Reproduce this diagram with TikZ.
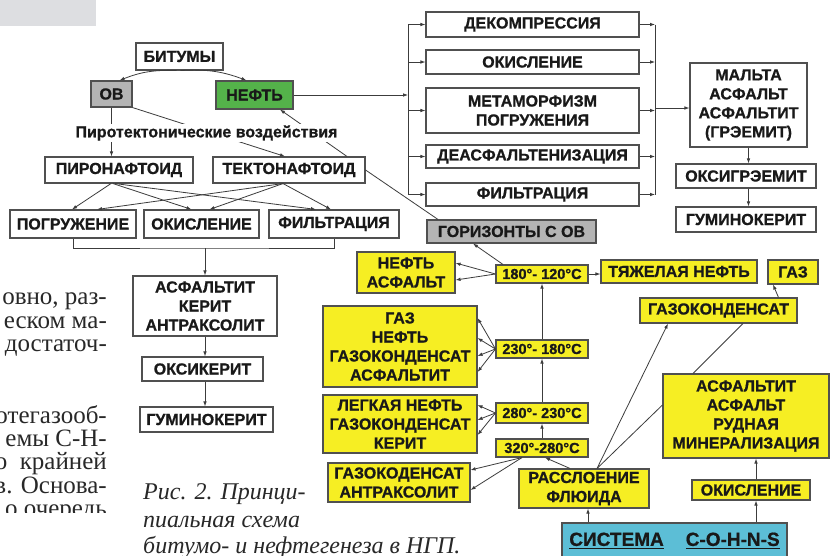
\documentclass[tikz,border=0pt]{standalone}
\usepackage{fontspec}
\setmainfont{Liberation Serif}
\newfontfamily\schemefont[BoldFeatures={FakeBold=0.8}]{Liberation Sans}
\usetikzlibrary{arrows.meta}

\definecolor{framecolor}{RGB}{80,80,80}
\definecolor{wirecolor}{RGB}{60,60,60}
\definecolor{ink}{RGB}{25,25,25}
\definecolor{pageink}{RGB}{40,40,40}
\definecolor{yellowfill}{RGB}{246,238,35}
\definecolor{greenfill}{RGB}{84,178,74}
\definecolor{grayfill}{RGB}{180,180,180}
\definecolor{cyanfill}{RGB}{92,190,214}
\definecolor{cornerfill}{RGB}{221,222,225}

% thick underline for the system label
\newcommand{\sysul}[1]{\setbox0\hbox{#1}\rlap{\rule[-3.5pt]{\wd0}{1.6pt}}\box0}

\begin{document}
\begin{tikzpicture}[x=1pt, y=-1pt,
    >={Latex[length=5pt,width=3.6pt]},
    wire/.style={draw=wirecolor, line width=0.8pt},
    box/.style={draw=framecolor, line width=1.1pt, fill=white, inner sep=0pt, align=center, text=ink,
      font=\schemefont\bfseries\fontsize{16}{19}\selectfont},
    ybox/.style={box, fill=yellowfill},
    tempbox/.style={ybox, font=\schemefont\bfseries\fontsize{14.5}{16}\selectfont},
    bodyline/.style={anchor=base east, inner sep=0pt, text=pageink, font=\fontsize{25}{24}\selectfont},
    capline/.style={anchor=base west, inner sep=0pt, text=pageink, font=\itshape\fontsize{24}{30}\selectfont}]

	\useasboundingbox (0,0) rectangle (833,555);
	\clip (0,0) rectangle (833,555);
	\fill[white] (0,0) rectangle (833,555);
	\fill[cornerfill] (0,0) rectangle (96,26);

	% --- Page text round the figure ---
	\begin{scope}
		\clip (0,0) rectangle (120,512);
		\node[bodyline] (txt1) at (107,304) {овно, раз-};
		\node[bodyline] (txt2) at (107,328) {еском ма-};
		\node[bodyline] (txt3) at (107,351) {достаточ-};
		\node[bodyline] (txt4) at (107,423) {отегазооб-};
		\node[bodyline] (txt5) at (107,446) {емы С-Н-};
		\node[bodyline] (txt6) at (107,469) {о\ \ крайней};
		\node[bodyline] (txt7) at (107,493) {в. Основа-};
		\node[bodyline] (txt8) at (107,516.5) {о очередь};
	\end{scope}
	\node[capline] (cap1) at (143,499) {Рис. 2. Принци-};
	\node[capline] (cap2) at (143,527) {пиальная схема};
	\node[capline] (cap3) at (143,553) {битумо- и нефтегенеза в НГП.};

	% --- Bitumen branch ---
	\node[box, minimum width=87pt, minimum height=27pt] (bitumy) at (179.5,56.5) {БИТУМЫ};
	\node[box, fill=grayfill, minimum width=41pt, minimum height=26pt] (ov) at (111.5,94) {ОВ};
	\node[box, fill=greenfill, minimum width=77pt, minimum height=28pt] (neft) at (254.5,95) {НЕФТЬ};
	\node[box, minimum width=148pt, minimum height=26pt] (piro) at (119,170) {ПИРОНАФТОИД};
	\node[box, minimum width=152pt, minimum height=26pt] (tekto) at (289,170) {ТЕКТОНАФТОИД};
	\node[box, minimum width=126pt, minimum height=28pt] (pogr) at (73,224) {ПОГРУЖЕНИЕ};
	\node[box, minimum width=115pt, minimum height=28pt] (okis) at (201.5,224) {ОКИСЛЕНИЕ};
	\node[box, minimum width=130pt, minimum height=28pt] (filt) at (334,224) {ФИЛЬТРАЦИЯ};
	\node[box, minimum width=144pt, minimum height=60pt] (asf) at (205,306) {АСФАЛЬТИТ\\КЕРИТ\\АНТРАКСОЛИТ};
	\node[box, minimum width=121pt, minimum height=24pt] (oksik) at (202.5,369) {ОКСИКЕРИТ};
	\node[box, minimum width=133pt, minimum height=25pt] (gumin) at (206.5,419.5) {ГУМИНОКЕРИТ};

	\draw[wire,->] ([xshift=-3pt]bitumy.south) to[bend right=12] ([xshift=8pt]ov.north);
	\draw[wire,->] ([xshift=1pt]bitumy.south) to[bend left=12] ([xshift=-8pt]neft.north);
	\draw[wire,->] (ov.south) -- (ov.south |- piro.north);
	\draw[wire,->] (ov.south east) -- ([xshift=-4pt]tekto.north);
	\draw[wire,->] ([xshift=58pt]tekto.north) -- ([xshift=25.5pt]neft.south);
	% fan to the processes
	\draw[wire,->] ([xshift=-8pt]piro.south) -- ([xshift=-1pt]pogr.north);
	\draw[wire,->] ([xshift=-6pt]piro.south) -- ([xshift=-10pt]okis.north);
	\draw[wire,->] ([xshift=-4pt]piro.south) -- ([xshift=-18pt]filt.north);
	\draw[wire,->] ([xshift=-6pt]tekto.south) -- ([xshift=24pt]pogr.north);
	\draw[wire,->] ([xshift=-6pt]tekto.south) -- ([xshift=8pt]okis.north);
	\draw[wire,->] ([xshift=-6pt]tekto.south) -- ([xshift=-3pt]filt.north);
	% bracket under the processes
	\coordinate (rowbr) at (205,248);
	\draw[wire] (pogr.south) |- (rowbr) -| (filt.south);
	\draw[wire,->] (rowbr) -- (asf.north);
	\draw[wire,->] (asf.south) -- (asf.south |- oksik.north);
	\draw[wire,->] (asf.south |- oksik.south) -- (asf.south |- gumin.north);

	\node[fill=white, inner sep=1pt, text=ink, font=\schemefont\bfseries\fontsize{16}{18}\selectfont]
		(pyro) at (206.5,133) {Пиротектонические воздействия};

	% --- Oil transformations ---
	\node[box, minimum width=213pt, minimum height=25pt] (dekomp) at (532.5,24.5) {ДЕКОМПРЕССИЯ};
	\node[box, minimum width=213pt, minimum height=24pt] (okis2) at (532.5,62) {ОКИСЛЕНИЕ};
	\node[box, minimum width=213pt, minimum height=45pt] (metam) at (532.5,110.5) {МЕТАМОРФИЗМ\\ПОГРУЖЕНИЯ};
	\node[box, minimum width=213pt, minimum height=23pt] (deasf) at (532.5,156.5) {ДЕАСФАЛЬТЕНИЗАЦИЯ};
	\node[box, minimum width=213pt, minimum height=23pt] (filt2) at (532.5,194.5) {ФИЛЬТРАЦИЯ};
	\node[box, minimum width=117pt, minimum height=84pt] (malta) at (748.5,105) {МАЛЬТА\\АСФАЛЬТ\\АСФАЛЬТИТ\\(ГРЭЕМИТ)};
	\node[box, minimum width=140pt, minimum height=24pt] (oksig) at (746,176) {ОКСИГРЭЕМИТ};
	\node[box, minimum width=140pt, minimum height=25pt] (gumin2) at (746,219.5) {ГУМИНОКЕРИТ};
	\node[box, fill=grayfill, minimum width=169pt, minimum height=23pt] (gorizont) at (511.5,231.5) {ГОРИЗОНТЫ С ОВ};

	\draw[wire] (tekto.east) -- ([xshift=-73.5pt]gorizont.north);
	\coordinate (lbr) at (408,95);
	\coordinate (rbr) at (655,108);
	\draw[wire,->] (neft.east) -- (lbr);
	\draw[wire] (dekomp.west -| lbr) -- (filt2.west -| lbr);
	\draw[wire] (dekomp.east -| rbr) -- (filt2.east -| rbr);
	\foreach \proc in {dekomp, okis2, metam, deasf, filt2} {
		\draw[wire,->] (\proc.west -| lbr) -- (\proc.west);
		\draw[wire,->] (\proc.east) -- (\proc.east -| rbr);
	}
	\draw[wire,->] (rbr) -- (rbr -| malta.west);
	\draw[wire,->] (malta.south) -- (malta.south |- oksig.north);
	\draw[wire,->] (malta.south |- oksig.south) -- (malta.south |- gumin2.north);

	% --- Temperature sequence ---
	\node[tempbox, minimum width=92pt, minimum height=18pt] (t1) at (542,274) {180°- 120°C};
	\node[tempbox, minimum width=92pt, minimum height=18pt] (t2) at (542,349) {230°- 180°C};
	\node[tempbox, minimum width=92pt, minimum height=20pt] (t3) at (542,413) {280°- 230°C};
	\node[tempbox, minimum width=92pt, minimum height=18pt] (t4) at (542,448) {320°-280°C};
	\node[ybox, minimum width=98pt, minimum height=41pt] (neftasf) at (406,272.5) {НЕФТЬ\\АСФАЛЬТ};
	\node[ybox, minimum width=154pt, minimum height=81pt] (gaz4) at (400,346.5) {ГАЗ\\НЕФТЬ\\ГАЗОКОНДЕНСАТ\\АСФАЛЬТИТ};
	\node[ybox, minimum width=154pt, minimum height=58pt] (legk) at (400,424) {ЛЕГКАЯ НЕФТЬ\\ГАЗОКОНДЕНСАТ\\КЕРИТ};
	\node[ybox, minimum width=142pt, minimum height=39pt] (gazokod) at (399,482.5) {ГАЗОКОДЕНСАТ\\АНТРАКСОЛИТ};
	\node[ybox, minimum width=156pt, minimum height=23pt] (tyazh) at (679,271.5) {ТЯЖЕЛАЯ НЕФТЬ};
	\node[ybox, minimum width=50pt, minimum height=24pt] (gaz) at (793,272) {ГАЗ};
	\node[ybox, minimum width=157pt, minimum height=25pt] (gazok) at (718.5,310.5) {ГАЗОКОНДЕНСАТ};
	\node[ybox, minimum width=130pt, minimum height=39pt] (rassl) at (584,488.5) {РАССЛОЕНИЕ\\ФЛЮИДА};
	\node[ybox, minimum width=166pt, minimum height=84pt] (asfrud) at (746,416) {АСФАЛЬТИТ\\АСФАЛЬТ\\РУДНАЯ\\МИНЕРАЛИЗАЦИЯ};
	\node[ybox, minimum width=118pt, minimum height=20pt] (okis3) at (751,490) {ОКИСЛЕНИЕ};
	\node[box, fill=cyanfill, minimum width=225pt, minimum height=36pt,
		font=\schemefont\bfseries\fontsize{19}{22}\selectfont] (sistema) at (674.5,541)
		{\sysul{СИСТЕМА}\hspace{22pt}\sysul{C-O-H-N-S}};

	\draw[wire,->] (t4.north) -- (t3.south);
	\draw[wire,->] (t3.north) -- (t2.south);
	\draw[wire,->] (t2.north) -- (t1.south);
	\draw[wire,->] (t1.east) -- (t1.east -| tyazh.west);
	\draw[wire,->] ([xshift=-39pt]t1.north) -- ([xshift=-38.5pt]gorizont.south);
	\draw[wire,->] (t1.west) -- ([yshift=9.5pt]neftasf.east);
	\draw[wire,->] (t1.west) -- ([yshift=-7.5pt]neftasf.east);
	\draw[wire,->] (t2.west) -- ([yshift=28.5pt]gaz4.east);
	\draw[wire,->] (t2.west) -- ([yshift=8.5pt]gaz4.east);
	\draw[wire,->] (t2.west) -- ([yshift=-9.5pt]gaz4.east);
	\draw[wire,->] (t2.west) -- ([yshift=-25.5pt]gaz4.east);
	\draw[wire,->] (t3.west) -- ([yshift=19pt]legk.east);
	\draw[wire,->] (t3.west) -- ([yshift=4pt]legk.east);
	\draw[wire,->] (t3.west) -- ([yshift=-11pt]legk.east);
	\draw[wire,->] ([xshift=-20pt]t4.south) -- ([yshift=12.5pt]gazokod.east);
	\draw[wire,->] ([xshift=-20pt]t4.south) -- ([yshift=-7.5pt]gazokod.east);

	% --- Fluid system ---
	\draw[wire,->] ([xshift=-14pt]rassl.north) -- ([xshift=3pt]t4.south);
	\draw[wire,->] ([xshift=13pt]rassl.north) -- ([xshift=-50.5pt]gazok.south);
	\draw[wire] ([xshift=13pt]rassl.north) -- ([yshift=11pt]asfrud.west);
	\draw[wire] ([xshift=-53pt]asfrud.north) -- ([xshift=24.5pt]gazok.south);
	\draw[wire,->] ([xshift=60pt]gazok.north) -- ([xshift=-20pt]gaz.south);
	\draw[wire,->] ([xshift=4pt]rassl.south |- sistema.north) -- ([xshift=4pt]rassl.south);
	\draw[wire,->] ([xshift=5pt]okis3.south |- sistema.north) -- ([xshift=5pt]okis3.south);
	\draw[wire,->] ([xshift=5pt]okis3.north) -- ([xshift=5pt]okis3.north |- asfrud.south);

\end{tikzpicture}
\end{document}
